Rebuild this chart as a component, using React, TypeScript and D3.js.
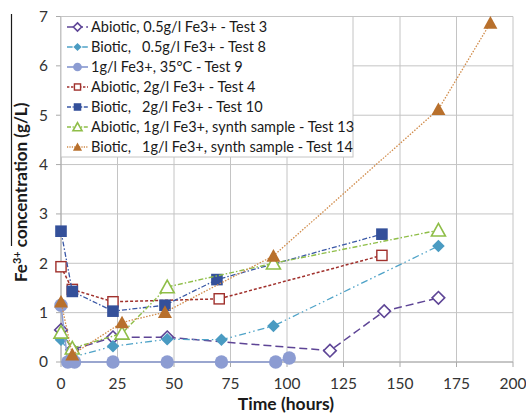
import React from 'react';
import * as d3 from 'd3';

const xTicks = [0, 25, 50, 75, 100, 125, 150, 175, 200];
const yTicks = [0, 1, 2, 3, 4, 5, 6, 7];

const seriesNames = [
  'Abiotic, 0.5g/l Fe3+ - Test 3',
  'Biotic,   0.5g/l Fe3+ - Test 8',
  '1g/l Fe3+, 35°C - Test 9',
  'Abiotic, 2g/l Fe3+ - Test 4',
  'Biotic,   2g/l Fe3+ - Test 10',
  'Abiotic, 1g/l Fe3+, synth sample - Test 13',
  'Biotic,   1g/l Fe3+, synth sample - Test 14',
];

const test3: [number, number][] = [[0, 0.65], [5, 0.25], [23, 0.5], [47, 0.5], [119, 0.23], [143, 1.03], [167, 1.3]];
const test8: [number, number][] = [[0, 0.45], [5, 0.1], [23, 0.32], [47, 0.46], [71, 0.45], [94, 0.73], [167, 2.35]];
const test9: [number, number][] = [[0, 1.15], [3, 0], [6, 0], [23, 0], [47, 0], [71, 0], [95, 0], [101, 0.08]];
const test4: [number, number][] = [[0, 1.93], [5, 1.47], [23, 1.22], [70, 1.28], [142, 2.16]];
const test10: [number, number][] = [[0, 2.65], [5, 1.43], [23, 1.03], [46, 1.15], [69, 1.67], [142, 2.59]];
const test13: [number, number][] = [[0, 0.6], [5, 0.28], [27, 0.58], [47, 1.52], [94, 2.0], [167, 2.67]];
const test14: [number, number][] = [[0, 1.22], [5, 0.15], [27, 0.8], [46, 1.01], [94, 2.15], [167, 5.12], [190, 6.87]];

const seriesData = [test3, test8, test9, test4, test10, test13, test14];

type Style = { color: string; lineColor: string; dash: string; marker: string; width: number };
const styles: Style[] = [
  { color: '#5e4596', lineColor: '#5e4596', dash: '8,4', marker: 'diamondOpen', width: 1.5 },
  { color: '#4a9bc2', lineColor: '#4fa3c8', dash: '7,3,1.5,3,1.5,3', marker: 'diamond', width: 1.3 },
  { color: '#8c9cd2', lineColor: '#8c9cd2', dash: '', marker: 'circle', width: 1.5 },
  { color: '#a0302c', lineColor: '#a0302c', dash: '3,2', marker: 'squareOpen', width: 1.5 },
  { color: '#34509a', lineColor: '#3a58a6', dash: '5,2,1.5,2', marker: 'square', width: 1.3 },
  { color: '#8fbe48', lineColor: '#8fbe48', dash: '5,2,1.5,2', marker: 'triangleOpen', width: 1.4 },
  { color: '#b8702c', lineColor: '#d08a48', dash: '1.5,1.5', marker: 'triangle', width: 1.3 },
];

const W = 526;
const H = 416;
const left = 61;
const right = 513;
const top = 16.5;
const bottom = 362;

const x = d3.scaleLinear().domain([0, 200]).range([left, right]);
const y = d3.scaleLinear().domain([0, 7]).range([bottom, top]);

const FONT = 'Lato, "Open Sans", sans-serif';

function Marker({ type, cx, cy, color, s }: { type: string; cx: number; cy: number; color: string; s: number }) {
  if (type === 'circle') return <circle cx={cx} cy={cy} r={6.7 * s} fill={color} />;
  if (type === 'diamond' || type === 'diamondOpen') {
    const r = 6.3 * s;
    const d = `M${cx},${cy - r}L${cx + r},${cy}L${cx},${cy + r}L${cx - r},${cy}Z`;
    return type === 'diamond' ? (
      <path d={d} fill={color} />
    ) : (
      <path d={d} fill="white" stroke={color} strokeWidth={1.6} />
    );
  }
  if (type === 'square' || type === 'squareOpen') {
    const h = 5.8 * s;
    return type === 'square' ? (
      <rect x={cx - h} y={cy - h} width={2 * h} height={2 * h} fill={color} />
    ) : (
      <rect x={cx - h + 0.7} y={cy - h + 0.7} width={2 * h - 1.4} height={2 * h - 1.4} fill="white" stroke={color} strokeWidth={1.4} />
    );
  }
  const w = 7 * s;
  const hh = 6.8 * s;
  const d = `M${cx},${cy - hh}L${cx + w},${cy + hh * 0.85}L${cx - w},${cy + hh * 0.85}Z`;
  return type === 'triangle' ? (
    <path d={d} fill={color} />
  ) : (
    <path d={d} fill="white" stroke={color} strokeWidth={1.6} />
  );
}

export default function App() {
  const line = d3
    .line<[number, number]>()
    .x((d) => x(d[0]))
    .y((d) => y(d[1]));

  const legendX = 61;
  const legendY = 16.5;
  const legendW = 292;
  const legendH = 140.5;
  const rowH = 20;

  return (
    <svg width={W} height={H} style={{ position: 'absolute', left: 0, top: 0, background: 'white' }} fontFamily={FONT}>
      <rect x={0} y={0} width={W} height={H} fill="white" />
      {xTicks.map((t) => (
        <line key={'gx' + t} x1={x(t)} x2={x(t)} y1={top} y2={bottom} stroke="#c4c4c4" strokeWidth={1} />
      ))}
      {yTicks.map((t) => (
        <line key={'gy' + t} x1={left} x2={right} y1={y(t)} y2={y(t)} stroke="#c4c4c4" strokeWidth={1} />
      ))}
      {yTicks.map((t) => (
        <line key={'ty' + t} x1={left - 5} x2={left} y1={y(t)} y2={y(t)} stroke="#aaaaaa" />
      ))}
      {xTicks.map((t) => (
        <line key={'tx' + t} x1={x(t)} x2={x(t)} y1={bottom} y2={bottom + 5} stroke="#aaaaaa" />
      ))}
      <line x1={left} x2={left} y1={top} y2={bottom} stroke="#aaaaaa" />
      <line x1={left} x2={right} y1={bottom} y2={bottom} stroke="#aaaaaa" />

      {yTicks.map((t) => (
        <text key={'ly' + t} x={48} y={y(t)} dy="0.35em" textAnchor="end" fontSize={15.5} fill="#333">
          {t}
        </text>
      ))}
      {xTicks.map((t) => (
        <text key={'lx' + t} x={x(t)} y={384} dy="0.35em" textAnchor="middle" fontSize={15.5} fill="#333">
          {t}
        </text>
      ))}

      {seriesData.map((data, i) => (
        <g key={'s' + i}>
          <path
            d={line(data) || ''}
            fill="none"
            stroke={styles[i].lineColor}
            strokeWidth={styles[i].width}
            strokeDasharray={styles[i].dash || undefined}
          />
          {data.map((d, j) => (
            <Marker key={j} type={styles[i].marker} cx={x(d[0])} cy={y(d[1])} color={styles[i].color} s={1} />
          ))}
        </g>
      ))}

      <rect x={legendX} y={legendY} width={legendW} height={legendH} fill="white" stroke="#c4c4c4" />
      {seriesNames.map((name, i) => {
        const cy = legendY + 10.5 + i * rowH;
        return (
          <g key={'lg' + i}>
            <line
              x1={67}
              x2={88}
              y1={cy}
              y2={cy}
              stroke={styles[i].lineColor}
              strokeWidth={styles[i].width + 0.2}
              strokeDasharray={styles[i].dash ? styles[i].dash.split(',').map((v) => +v * 0.8).join(',') : undefined}
            />
            <Marker type={styles[i].marker} cx={77.5} cy={cy} color={styles[i].color} s={0.65} />
            <text x={91} y={cy} dy="0.35em" fontSize={14.5} fill="#1a1a1a" style={{ whiteSpace: 'pre' }}>
              {name}
            </text>
          </g>
        );
      })}

      <text x={286} y={410} textAnchor="middle" fontSize={17.5} fontWeight="bold" fill="#1a1a1a">
        Time (hours)
      </text>
      <g transform="translate(27,282) rotate(-90)">
        <text x={0} y={0} fontSize={17} fontWeight="bold" fill="#1a1a1a">
          Fe<tspan dy={-6} fontSize={11}>3+</tspan>
          <tspan dy={6}> concentration (g/L)</tspan>
        </text>
      </g>
      <line x1={11.5} x2={11.5} y1={14} y2={246} stroke="#1a1a1a" strokeWidth={1.2} />
    </svg>
  );
}
